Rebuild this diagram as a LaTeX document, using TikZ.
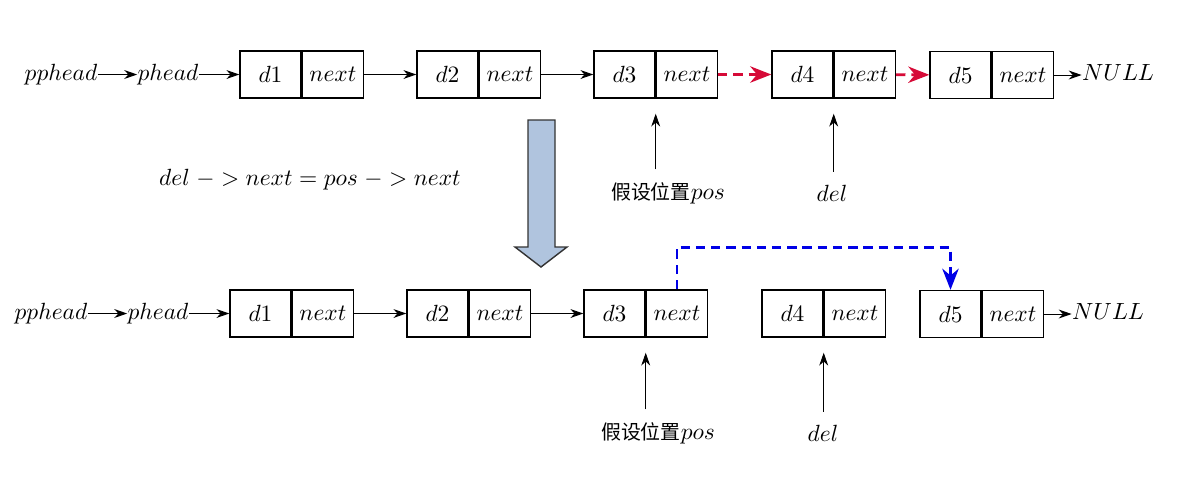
\documentclass[tikz,border=0pt]{standalone}
\usepackage{fontspec}
\newfontfamily\cjk{Noto Sans CJK SC}
\usetikzlibrary{arrows.meta}
\definecolor{delred}{RGB}{214,10,55}
\definecolor{newblue}{RGB}{0,0,230}
\definecolor{bigfill}{RGB}{176,196,222}
\newcommand{\cn}[1]{{\cjk\fontsize{8.5pt}{10pt}\selectfont #1}}

\begin{document}
\begin{tikzpicture}[x=0.015cm, y=-0.015cm, ->, >={Stealth[length=5.5pt,width=3.8pt]},
    cell/.style = {draw, semithick, minimum width=0.915cm, minimum height=0.705cm, inner sep=0pt},
    word/.style = {inner sep=0pt, text height=1.6ex, text depth=0.5ex},
    up/.style = {shorten <=0.07cm, shorten >=0.225cm},
    oldlink/.style = {draw=delred, line width=1.2pt, dash pattern=on 4pt off 2.5pt, >={Stealth[length=9pt,width=7pt]}},
    newlink/.style = {draw=newblue, line width=1.2pt, dash pattern=on 4pt off 2.5pt, >={Stealth[length=9pt,width=7pt]}}]
    \useasboundingbox (0,0) rectangle (1203,478);

    % Nodes, first list
    \node[word] (tpp) at (61,74.5) {$pphead$};
    \node[word] (tph) at (168,74.5) {$phead$};
    \node[cell] (t1) at (270.5,74.5) {$d1$};
    \node[cell, anchor=west] (t1n) at (t1.east) {$next$};
    \node[cell] (t2) at (447.5,74.5) {$d2$};
    \node[cell, anchor=west] (t2n) at (t2.east) {$next$};
    \node[cell] (t3) at (624.5,74.5) {$d3$};
    \node[cell, anchor=west] (t3n) at (t3.east) {$next$};
    \node[cell] (t4) at (802.5,74.5) {$d4$};
    \node[cell, anchor=west] (t4n) at (t4.east) {$next$};
    \node[cell] (t5) at (960.5,75) {$d5$};
    \node[cell, anchor=west] (t5n) at (t5.east) {$next$};
    \node[word] (tnull) at (1118,75) {$NULL$};
    \node (tpos) at (668,193) {\cn{假设位置}$pos$};
    \node (tdel) at (832,193) {$del$};

    % Nodes, second list
    \node[word] (bpp) at (51,313.5) {$pphead$};
    \node[word] (bph) at (158,313.5) {$phead$};
    \node[cell] (b1) at (260.5,313.5) {$d1$};
    \node[cell, anchor=west] (b1n) at (b1.east) {$next$};
    \node[cell] (b2) at (437.5,313.5) {$d2$};
    \node[cell, anchor=west] (b2n) at (b2.east) {$next$};
    \node[cell] (b3) at (614.5,313.5) {$d3$};
    \node[cell, anchor=west] (b3n) at (b3.east) {$next$};
    \node[cell] (b4) at (792.5,313.5) {$d4$};
    \node[cell, anchor=west] (b4n) at (b4.east) {$next$};
    \node[cell] (b5) at (950.5,314) {$d5$};
    \node[cell, anchor=west] (b5n) at (b5.east) {$next$};
    \node[word] (bnull) at (1108,314) {$NULL$};
    \node (bpos) at (658,433) {\cn{假设位置}$pos$};
    \node (bdel) at (823,433) {$del$};

    \node (rule) at (310,180) {$del\;{-}\;{>}\;next = pos\;{-}\;{>}\;next$};

    % Big arrow
    \draw[-, fill=bigfill, draw=black!80, semithick] (528,120) -- (555,120) -- (555,247) -- (567,247)
        -- (541,267) -- (515,247) -- (528,247) -- cycle;

    % Edges, first list
    \draw (tpp) -- (tph);
    \draw (tph) -- (t1);
    \draw (t1n) -- (t2);
    \draw (t2n) -- (t3);
    \draw[oldlink] (t3n) -- (t4);
    \draw[oldlink] (t4n) -- (t5);
    \draw (t5n) -- (tnull);
    \draw[up] (t3.south east |- tpos.north) -- (t3.south east);
    \draw[up] (t4.south east |- tdel.north) -- (t4.south east);

    % Edges, second list
    \draw (bpp) -- (bph);
    \draw (bph) -- (b1);
    \draw (b1n) -- (b2);
    \draw (b2n) -- (b3);
    \draw (b5n) -- (bnull);
    \draw[newlink] (b3n.north) -- ++(0,-42) -| (b5.north);
    \draw[up] (b3.south east |- bpos.north) -- (b3.south east);
    \draw[up] (b4.south east |- bdel.north) -- (b4.south east);
\end{tikzpicture}
\end{document}
